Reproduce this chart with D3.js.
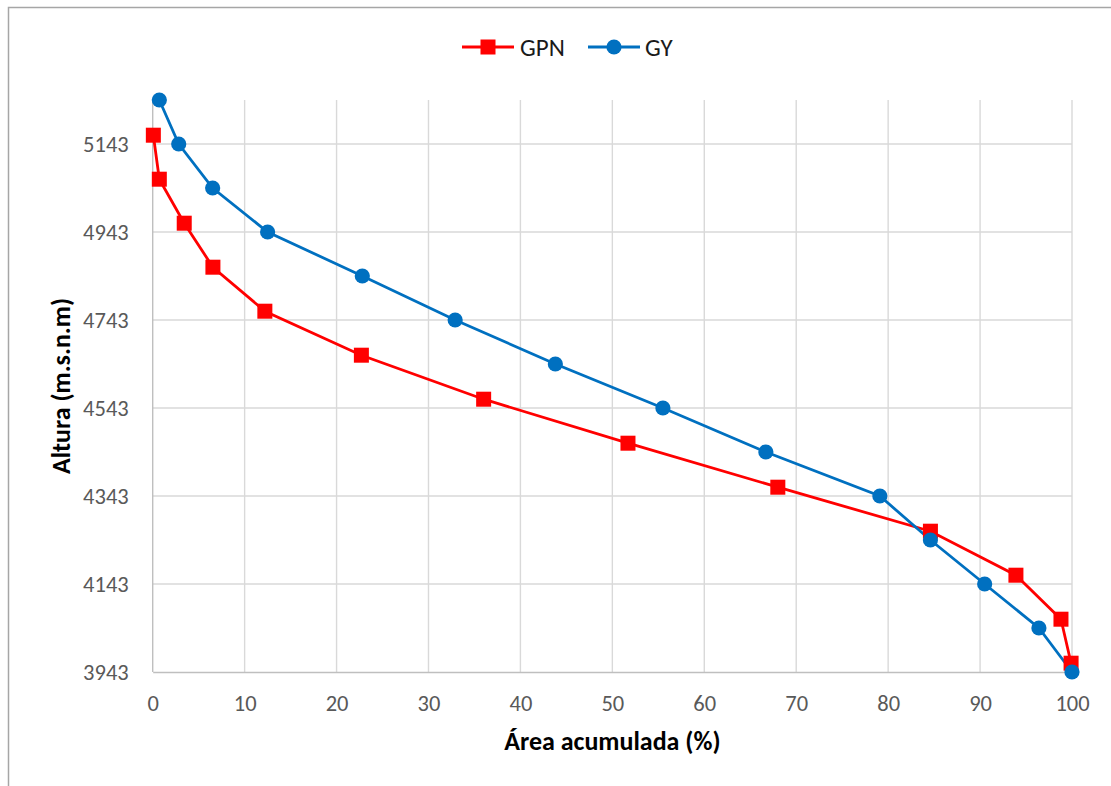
<!DOCTYPE html>
<html>
<head>
<meta charset="utf-8">
<script src="https://cdn.jsdelivr.net/npm/d3@7"></script>
<style>
  html, body { margin: 0; padding: 0; background: #fff; }
  svg { display: block; font-family: Carlito, Lato, "Liberation Sans", sans-serif; }
</style>
</head>
<body>
<svg id="chart" width="1111" height="786"></svg>
<script>
// Hypsometric curves: cumulative area (%) vs. elevation (m a.s.l.)
const seriesNames = ["GPN", "GY"];
const seriesColors = ["#ff0000", "#0070c0"];

const gpnArea   = [0.07, 0.72, 3.43, 6.55, 12.2, 22.7, 36.0, 51.7, 68.0, 84.6, 93.9, 98.8, 99.9];
const gpnHeight = [5163, 5063, 4963, 4863, 4763, 4663, 4563, 4463, 4363, 4263, 4163, 4063, 3963];

const gyArea    = [0.72, 2.83, 6.52, 12.5, 22.8, 32.9, 43.8, 55.5, 66.7, 79.1, 84.6, 90.5, 96.4, 100];
const gyHeight  = [5243, 5143, 5043, 4943, 4843, 4743, 4643, 4543, 4443, 4343, 4243, 4143, 4043, 3943];

const xTicks = [0, 10, 20, 30, 40, 50, 60, 70, 80, 90, 100];
const yTicks = [3943, 4143, 4343, 4543, 4743, 4943, 5143];

const xTitle = "Área acumulada (%)";
const yTitle = "Altura (m.s.n.m)";

const svg = d3.select("#chart");
const plot = { left: 152.7, right: 1072, top: 100, bottom: 672 };

const x = d3.scaleLinear().domain([0, 100]).range([plot.left, plot.right]);
const y = d3.scaleLinear().domain([3943, 5243]).range([plot.bottom, plot.top]);

// outer chart frame
svg.append("rect")
  .attr("x", 8.5).attr("y", 7.5).attr("width", 1200).attr("height", 900)
  .attr("fill", "none").attr("stroke", "#a6a6a6").attr("stroke-width", 1.5);

// gridlines
const grid = svg.append("g").attr("stroke", "#d9d9d9").attr("stroke-width", 1.4);
grid.selectAll("line.v").data(xTicks.slice(1)).join("line")
  .attr("x1", d => x(d)).attr("x2", d => x(d))
  .attr("y1", plot.top).attr("y2", plot.bottom);
grid.selectAll("line.h").data(yTicks.slice(1)).join("line")
  .attr("x1", plot.left).attr("x2", plot.right)
  .attr("y1", d => y(d)).attr("y2", d => y(d));

// axes
const xAxis = svg.append("g").attr("transform", `translate(0,${plot.bottom})`)
  .call(d3.axisBottom(x).tickValues(xTicks).tickSize(0).tickPadding(23));
const yAxis = svg.append("g").attr("transform", `translate(${plot.left},0)`)
  .call(d3.axisLeft(y).tickValues(yTicks).tickSize(0).tickPadding(24).tickFormat(d3.format("d")));
[xAxis, yAxis].forEach(a => {
  a.select(".domain").attr("stroke", "#bfbfbf").attr("stroke-width", 1.4);
  a.selectAll("text").attr("fill", "#595959").attr("font-size", 22.5)
    .attr("font-family", "Carlito, Lato, sans-serif");
});
yAxis.select(".domain").attr("d", `M0,${plot.top}V${plot.bottom}`);

// axis titles
svg.append("text")
  .attr("x", (plot.left + plot.right) / 2).attr("y", 750)
  .attr("text-anchor", "middle").attr("font-size", 26).attr("font-weight", "bold")
  .attr("fill", "#000").text(xTitle);
svg.append("text")
  .attr("transform", `translate(70,${(plot.top + plot.bottom) / 2}) rotate(-90)`)
  .attr("text-anchor", "middle").attr("font-size", 26).attr("font-weight", "bold")
  .attr("fill", "#000").text(yTitle);

// series
const series = [
  { name: seriesNames[0], color: seriesColors[0], shape: "square",
    pts: gpnArea.map((a, i) => [a, gpnHeight[i]]) },
  { name: seriesNames[1], color: seriesColors[1], shape: "circle",
    pts: gyArea.map((a, i) => [a, gyHeight[i]]) }
];
const line = d3.line().x(d => x(d[0])).y(d => y(d[1]));

function marker(sel, shape, color) {
  if (shape === "square") {
    sel.append("rect").attr("x", -7.5).attr("y", -7.5).attr("width", 15).attr("height", 15)
      .attr("fill", color);
  } else {
    sel.append("circle").attr("r", 7.6).attr("fill", color);
  }
}

series.forEach(s => {
  svg.append("path").datum(s.pts).attr("d", line)
    .attr("fill", "none").attr("stroke", s.color).attr("stroke-width", 2.8);
});
series.forEach(s => {
  svg.append("g").selectAll("g").data(s.pts).join("g")
    .attr("transform", d => `translate(${x(d[0])},${y(d[1])})`)
    .each(function () { marker(d3.select(this), s.shape, s.color); });
});

// legend
const legendItems = [
  { x0: 462, text: 520 },
  { x0: 588, text: 645 }
];
const legendY = 47;
series.forEach((s, i) => {
  const it = legendItems[i];
  const g = svg.append("g");
  g.append("line").attr("x1", it.x0).attr("x2", it.x0 + 52)
    .attr("y1", legendY).attr("y2", legendY)
    .attr("stroke", s.color).attr("stroke-width", 2.8);
  const m = g.append("g").attr("transform", `translate(${it.x0 + 26},${legendY})`);
  marker(m, s.shape, s.color);
  g.append("text").attr("x", it.text).attr("y", legendY).attr("dy", "0.36em")
    .attr("font-size", 25).attr("fill", "#1a1a1a").text(s.name);
});
</script>
</body>
</html>
